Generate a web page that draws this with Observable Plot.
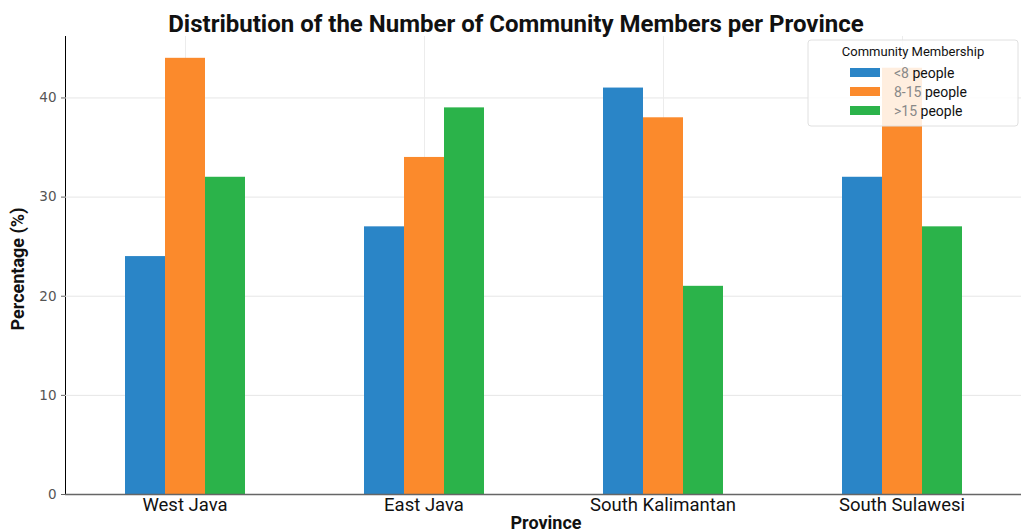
<!DOCTYPE html>
<html>
<head>
<meta charset="utf-8">
<script src="https://cdn.jsdelivr.net/npm/d3@7"></script>
<script src="https://cdn.jsdelivr.net/npm/@observablehq/plot@0.6"></script>
<style>
  html, body { margin: 0; padding: 0; background: #fff; }
  #chart { position: relative; width: 1022px; height: 532px; }
</style>
</head>
<body>
<div id="chart"></div>
<script>
const provinces = ["West Java", "East Java", "South Kalimantan", "South Sulawesi"];
const groups = ["<8 people", "8-15 people", ">15 people"];
const groupPrefix = ["<8", "8-15", ">15"];
const lessThan8 = [24, 27, 41, 32];
const from8to15 = [44, 34, 38, 43];
const moreThan15 = [32, 39, 21, 27];
const colors = ["#2a85c7", "#fb8a2c", "#2bb34a"];
const yTicks = [0, 10, 20, 30, 40];
const titleText = "Distribution of the Number of Community Members per Province";
const xLabel = "Province";
const yLabel = "Percentage (%)";
const legendTitle = "Community Membership";

const series = [lessThan8, from8to15, moreThan15];
const data = provinces.flatMap((p, i) => groups.map((g, j) => ({province: p, group: g, value: series[j][i]})));

const plot = Plot.plot({
  width: 1022,
  height: 532,
  marginTop: 36,
  marginBottom: 38,
  marginLeft: 64,
  marginRight: 1,
  style: {fontFamily: "Roboto", background: "#fff"},
  facet: {data, x: "province"},
  fx: {domain: provinces, padding: 0, label: null, tickSize: 0, tickPadding: 3, axis: "bottom"},
  x: {domain: groups, paddingInner: 0, paddingOuter: 1.45, axis: null},
  y: {domain: [0, 46.2], ticks: yTicks, label: null, tickSize: 4, tickPadding: 5, line: true},
  color: {domain: groups, range: colors},
  marks: [
    Plot.ruleY(yTicks.slice(1), {stroke: "#e6e6e6", strokeWidth: 1}),
    Plot.ruleX([groups[1]], {stroke: "#ececec", strokeWidth: 1}),
    Plot.barY(data, {x: "group", y: "value", fill: "group"}),
    Plot.ruleY([0], {stroke: "#666", strokeWidth: 1.5})
  ]
});

document.getElementById("chart").appendChild(plot);
const svg = d3.select(plot);

// style y axis
svg.selectAll('g[aria-label^="y-axis"] text')
  .attr("fill", "#555")
  .style("font-family", "DejaVu Sans")
  .style("font-size", "13.5px");
svg.selectAll('g[aria-label^="y-axis"] line, g[aria-label^="y-axis"] path')
  .attr("stroke", "#666");

// style fx axis
svg.selectAll('g[aria-label^="fx-axis"] text')
  .attr("fill", "#111")
  .style("font-family", "Roboto")
  .style("font-size", "18.5px");

// title
svg.append("text")
  .attr("x", 516).attr("y", 32)
  .attr("text-anchor", "middle")
  .style("font-family", "Roboto").style("font-weight", "bold").style("font-size", "24px")
  .attr("fill", "#111")
  .text(titleText);

// x label
svg.append("text")
  .attr("x", 546).attr("y", 529)
  .attr("text-anchor", "middle")
  .style("font-family", "Roboto").style("font-weight", "bold").style("font-size", "18px")
  .attr("fill", "#111")
  .text(xLabel);

// y label
svg.append("text")
  .attr("transform", "translate(24,269) rotate(-90)")
  .attr("text-anchor", "middle")
  .style("font-family", "Roboto").style("font-weight", "bold").style("font-size", "18px")
  .attr("fill", "#111")
  .text(yLabel);

// legend
const lg = svg.append("g").attr("transform", "translate(808,40)");
lg.append("rect").attr("width", 210).attr("height", 86).attr("rx", 3)
  .attr("fill", "#fff").attr("fill-opacity", 0.85).attr("stroke", "#e0e0e0");
lg.append("text").attr("x", 105).attr("y", 16).attr("text-anchor", "middle")
  .style("font-family", "Roboto").style("font-size", "13px").attr("fill", "#111")
  .text(legendTitle);
groups.forEach((g, j) => {
  const yy = 33 + j * 19;
  lg.append("rect").attr("x", 42).attr("y", yy - 5).attr("width", 30).attr("height", 9).attr("fill", colors[j]);
  const t = lg.append("text").attr("x", 86).attr("y", yy + 5).attr("text-anchor", "start")
    .style("font-family", "Roboto").style("font-size", "14px");
  t.append("tspan").attr("fill", "#888").text(groupPrefix[j]);
  t.append("tspan").attr("fill", "#111").text(g.slice(groupPrefix[j].length));
});
</script>
</body>
</html>
